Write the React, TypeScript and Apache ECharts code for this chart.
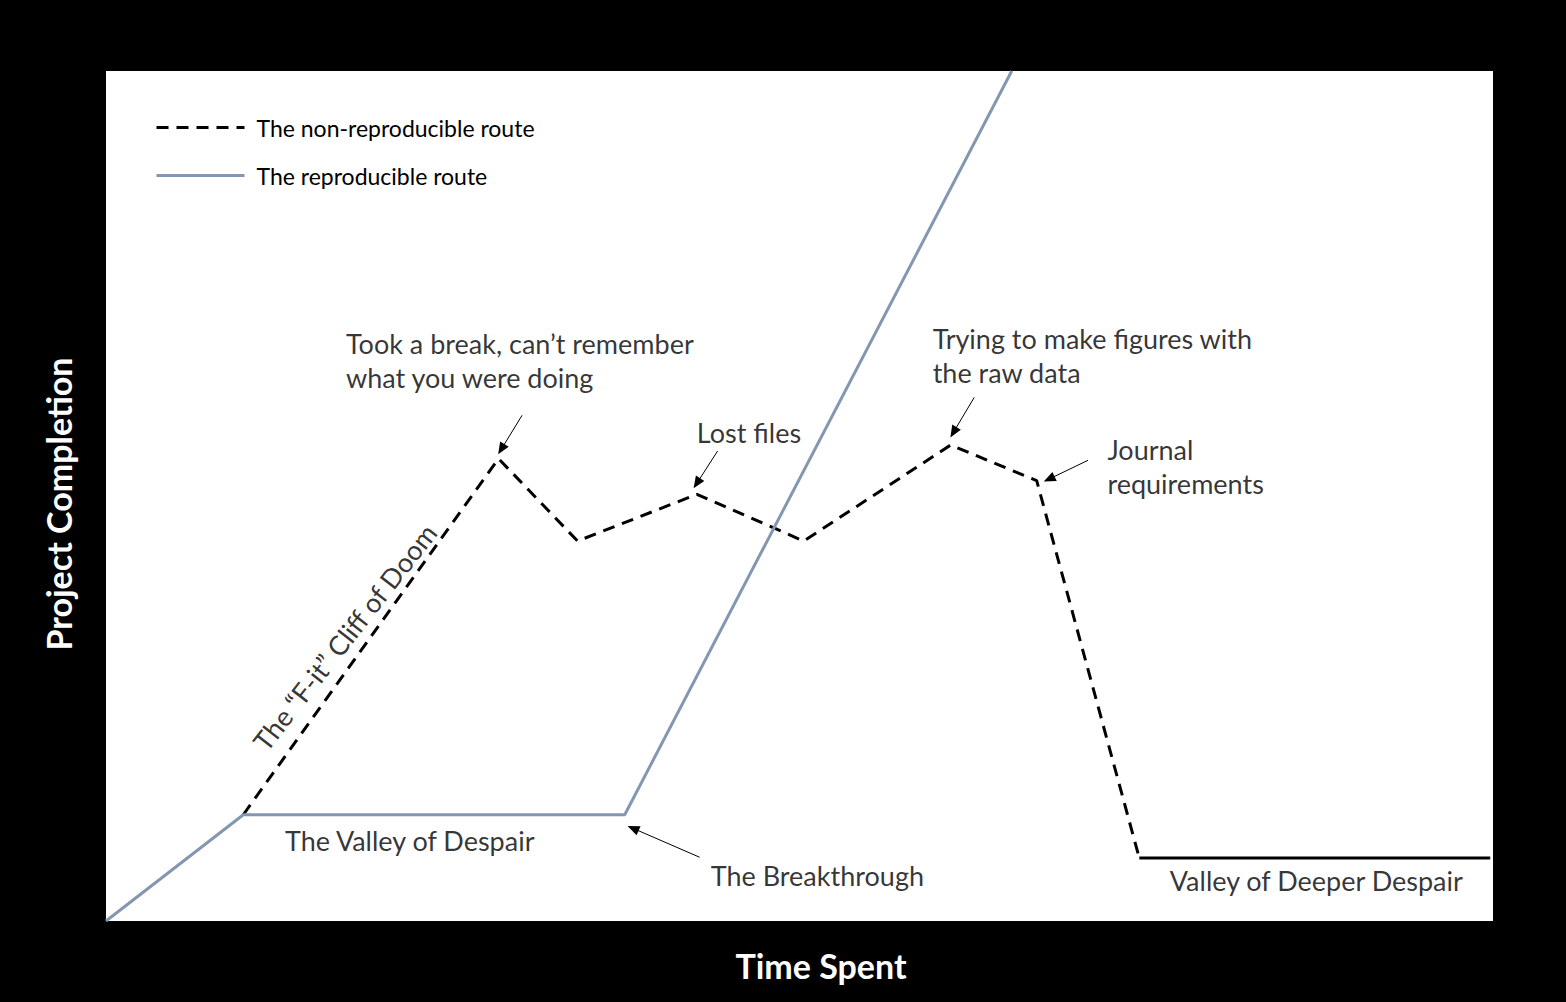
import React, { useEffect, useRef } from "react";
import * as echarts from "echarts";

// Axis ranges (arbitrary units: 0–100 for both axes)
const xRange = [0, 100];
const yRange = [0, 100];

// Series names
const seriesNames = ["The non-reproducible route", "The reproducible route"];

// Route points [time, completion]
const nonReproducibleRoute: [number, number][] = [
  [9.9, 12.5],
  [28.3, 54.4],
  [34.0, 44.7],
  [42.6, 50.2],
  [50.3, 44.7],
  [60.9, 56.0],
  [67.1, 51.8],
  [74.5, 7.4],
];
const deeperValley: [number, number][] = [
  [74.5, 7.4],
  [99.8, 7.4],
];
const reproducibleRoute: [number, number][] = [
  [0, 0],
  [9.9, 12.5],
  [37.4, 12.5],
  [65.3, 100],
];

// Annotations
const annotationTexts = [
  "Took a break, can’t remember\nwhat you were doing",
  "Lost files",
  "Trying to make figures with\nthe raw data",
  "Journal\nrequirements",
  "The Valley of Despair",
  "The Breakthrough",
  "Valley of Deeper Despair",
  "The “F-it” Cliff of Doom",
];
const annotationX = [17.3, 42.6, 59.6, 72.2, 12.9, 43.6, 76.7, 17.2];
const annotationY = [66.0, 57.5, 66.5, 53.5, 9.5, 5.4, 4.8, 33.4];
const annotationRotate = [0, 0, 0, 0, 0, 0, 0, 52];

// Arrows: tail -> head
const arrowTails: [number, number][] = [
  [30.0, 59.5],
  [44.1, 55.3],
  [62.6, 61.6],
  [70.8, 54.2],
  [42.8, 7.5],
];
const arrowHeads: [number, number][] = [
  [28.5, 55.5],
  [42.6, 51.5],
  [61.1, 57.5],
  [68.0, 52.0],
  [38.0, 10.9],
];

const FONT = "Lato";

export default function App() {
  const ref = useRef<HTMLDivElement>(null);

  useEffect(() => {
    if (!ref.current) return;
    const chart = echarts.init(ref.current, undefined, { renderer: "svg" });

    const annotationData = annotationTexts.map((t, i) => ({
      value: [annotationX[i], annotationY[i]],
      label: {
        formatter: t,
        rotate: annotationRotate[i],
        align: annotationRotate[i] ? "center" : "left",
      },
    }));

    const arrowData = arrowTails.map((t, i) => [
      { coord: t },
      { coord: arrowHeads[i] },
    ]);

    chart.setOption({
      animation: false,
      backgroundColor: "#000",
      grid: {
        left: 106,
        top: 71,
        width: 1387,
        height: 850,
        show: true,
        backgroundColor: "#fff",
        borderWidth: 0,
      },
      legend: {
        data: seriesNames,
        orient: "vertical",
        left: 150,
        top: 111,
        itemWidth: 88,
        itemHeight: 24,
        itemGap: 25,
        lineStyle: { width: 3 },
        itemStyle: { opacity: 0 },
        textStyle: {
          fontFamily: FONT,
          fontSize: 23,
          color: "#000",
          padding: [0, 0, 0, 7],
        },
        selectedMode: false,
      },
      xAxis: {
        type: "value",
        min: xRange[0],
        max: xRange[1],
        axisLine: { show: false },
        axisTick: { show: false },
        axisLabel: { show: false },
        splitLine: { show: false },
        name: "Time Spent",
        nameLocation: "middle",
        nameGap: 27,
        nameTextStyle: {
          color: "#fff",
          fontFamily: FONT,
          fontWeight: "bold",
          fontSize: 34,
          padding: [0, 0, 0, 43],
        },
      },
      yAxis: {
        type: "value",
        min: yRange[0],
        max: yRange[1],
        axisLine: { show: false },
        axisTick: { show: false },
        axisLabel: { show: false },
        splitLine: { show: false },
        name: "Project Completion",
        nameLocation: "middle",
        nameGap: 31,
        nameTextStyle: {
          color: "#fff",
          fontFamily: FONT,
          fontWeight: "bold",
          fontSize: 34,
          padding: [0, 16, 0, 0],
        },
      },
      series: [
        {
          name: seriesNames[0],
          type: "line",
          data: nonReproducibleRoute,
          symbol: "none",
          lineStyle: { color: "#000", width: 3, type: [12, 8] },
          itemStyle: { color: "#000" },
          z: 2,
        },
        {
          name: "valley",
          type: "line",
          data: deeperValley,
          symbol: "none",
          lineStyle: { color: "#000", width: 3, type: "solid" },
          z: 2,
          markLine: {
            silent: true,
            symbol: ["none", "triangle"],
            symbolSize: [10, 12],
            label: { show: false },
            lineStyle: { color: "#000", width: 1, type: "solid" },
            data: arrowData,
          },
        },
        {
          name: seriesNames[1],
          type: "line",
          data: reproducibleRoute,
          symbol: "none",
          lineStyle: { color: "#8497B0", width: 3 },
          itemStyle: { color: "#8497B0" },
          z: 3,
        },
        {
          name: "annotations",
          type: "scatter",
          data: annotationData,
          symbolSize: 1,
          itemStyle: { color: "rgba(0,0,0,0)" },
          silent: true,
          z: 4,
          label: {
            show: true,
            position: "inside",
            verticalAlign: "middle",
            color: "#000",
            fontFamily: FONT,
            fontSize: 27,
            lineHeight: 34,
          },
        },
      ],
    });

    return () => chart.dispose();
  }, []);

  return (
    <div
      style={{
        position: "fixed",
        left: 0,
        top: 0,
        width: 1566,
        height: 1002,
        background: "#000",
      }}
    >
      <div ref={ref} style={{ width: 1566, height: 1002 }} />
    </div>
  );
}
